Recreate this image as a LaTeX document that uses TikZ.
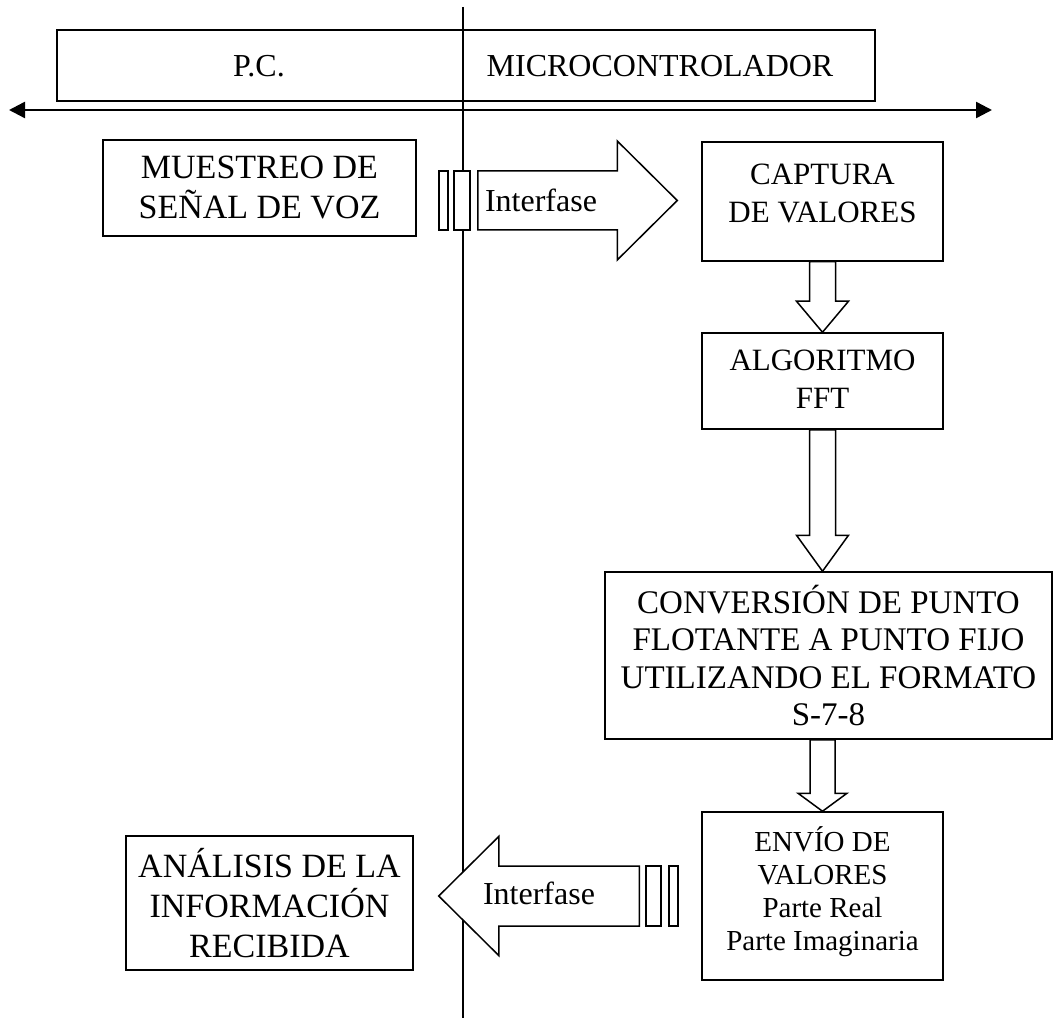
\documentclass[tikz,border=0pt]{standalone}
\usepackage{fontspec}
\setmainfont{Liberation Serif}
\usetikzlibrary{calc,arrows.meta}

% hollow block arrow: #1 tail centre, #2 tip, #3 shaft half-width,
% #4 head half-width, #5 head length
\newcommand{\fatarrow}[5]{%
  \coordinate (fa-b) at ($(#2)!#5pt!(#1)$);
  \draw[fat] ($(#1)!#3pt!90:(#2)$) -- ($(fa-b)!#3pt!90:(#2)$)
    -- ($(fa-b)!#4pt!90:(#2)$) -- (#2) -- ($(fa-b)!#4pt!-90:(#2)$)
    -- ($(fa-b)!#3pt!-90:(#2)$) -- ($(#1)!#3pt!-90:(#2)$) -- cycle;}

\begin{document}
\begin{tikzpicture}[x=1pt,y=-1pt,
  lw/.style={line width=1.5pt},
  box/.style={draw, lw, fill=white, inner sep=0pt, align=center},
  fat/.style={draw, lw, fill=white, line join=miter},
  slot/.style={draw, lw, fill=white, inner sep=0pt},
  txtL/.style={font=\fontsize{34}{40}\selectfont},
  txtM/.style={align=center, font=\fontsize{31}{38}\selectfont},
  txtC/.style={font=\fontsize{33}{37.5}\selectfont},
  txtS/.style={align=center, font=\fontsize{29}{33}\selectfont},
  txtI/.style={font=\fontsize{32}{36}\selectfont},
  txtH/.style={font=\fontsize{32}{36}\selectfont}]

\useasboundingbox (0,0) rectangle (1055,1032);

% dividing line between the two sides
\coordinate (ltop) at (463,7);
\coordinate (lbot) at (463,1018);
\draw[lw] (ltop) -- (lbot);

% header
\node[draw, lw, minimum width=818pt, minimum height=71pt, inner sep=0pt] (hdr) at (466,65.5) {};
\node[txtH] (pc) at (259,66) {P.C.};
\node[txtH] (mc) at (660,66) {MICROCONTROLADOR};
\coordinate (axl) at (9,110);
\coordinate (axr) at (992,110);
\draw[line width=2.4pt, {Triangle[length=16pt,width=16pt]}-{Triangle[length=16pt,width=16pt]}] (axl) -- (axr);

% process boxes
\node[box, txtL, minimum width=313pt, minimum height=96pt] (mue) at (259.5,188) {MUESTREO DE\\SEÑAL DE VOZ};
\node[box, minimum width=241pt, minimum height=119pt] (cap) at (822.5,201.5) {};
\node[txtM] (capt) at ($(cap)+(0,-8)$) {CAPTURA\\DE VALORES};
\node[box, minimum width=241pt, minimum height=96pt] (alg) at (822.5,381) {};
\node[txtM] (algt) at ($(alg)+(0,-2)$) {ALGORITMO\\FFT};
\node[box, txtC, minimum width=447pt, minimum height=167pt] (conv) at (828.5,655.5) {CONVERSIÓN DE PUNTO\\FLOTANTE A PUNTO FIJO\\UTILIZANDO EL FORMATO\\S-7-8};
\node[box, minimum width=241pt, minimum height=168pt] (env) at (822.5,896) {};
\node[txtS] (envt) at ($(env)+(0,-4)$) {ENVÍO DE\\VALORES\\Parte Real\\Parte Imaginaria};
\node[box, txtL, minimum width=287pt, minimum height=134pt] (ana) at (269.5,903) {ANÁLISIS DE LA\\INFORMACIÓN\\RECIBIDA};

% interface slots
\node[slot, minimum width=9pt, minimum height=59pt] (s1) at (443.5,200.5) {};
\node[slot, minimum width=16pt, minimum height=59pt] (s2) at (462,200.5) {};
\node[slot, minimum width=15pt, minimum height=60pt] (s3) at (653.5,896) {};
\node[slot, minimum width=9pt, minimum height=60pt] (s4) at (673.5,896) {};

% block arrows
\coordinate (t1) at ($(s2.east)+(7,0)$);
\coordinate (h1) at ($(cap.west |- s2.east)+(-24,0)$);
\fatarrow{t1}{h1}{29.5}{59.5}{60}
\coordinate (t2) at ($(s3.west)+(-6,0)$);
\coordinate (h2) at ($(ana.east |- s3.west)+(25,0)$);
\fatarrow{t2}{h2}{30}{59.5}{60}

\fatarrow{cap.south}{alg.north}{13}{26}{31}
\coordinate (d2) at (alg.south |- conv.north);
\fatarrow{alg.south}{d2}{13}{26}{36}
\coordinate (d3) at (env.north |- conv.south);
\fatarrow{d3}{env.north}{12.5}{24.5}{18}

\node[txtI] (i1) at (541,200) {Interfase};
\node[txtI] (i2) at (539,893) {Interfase};
\end{tikzpicture}
\end{document}
